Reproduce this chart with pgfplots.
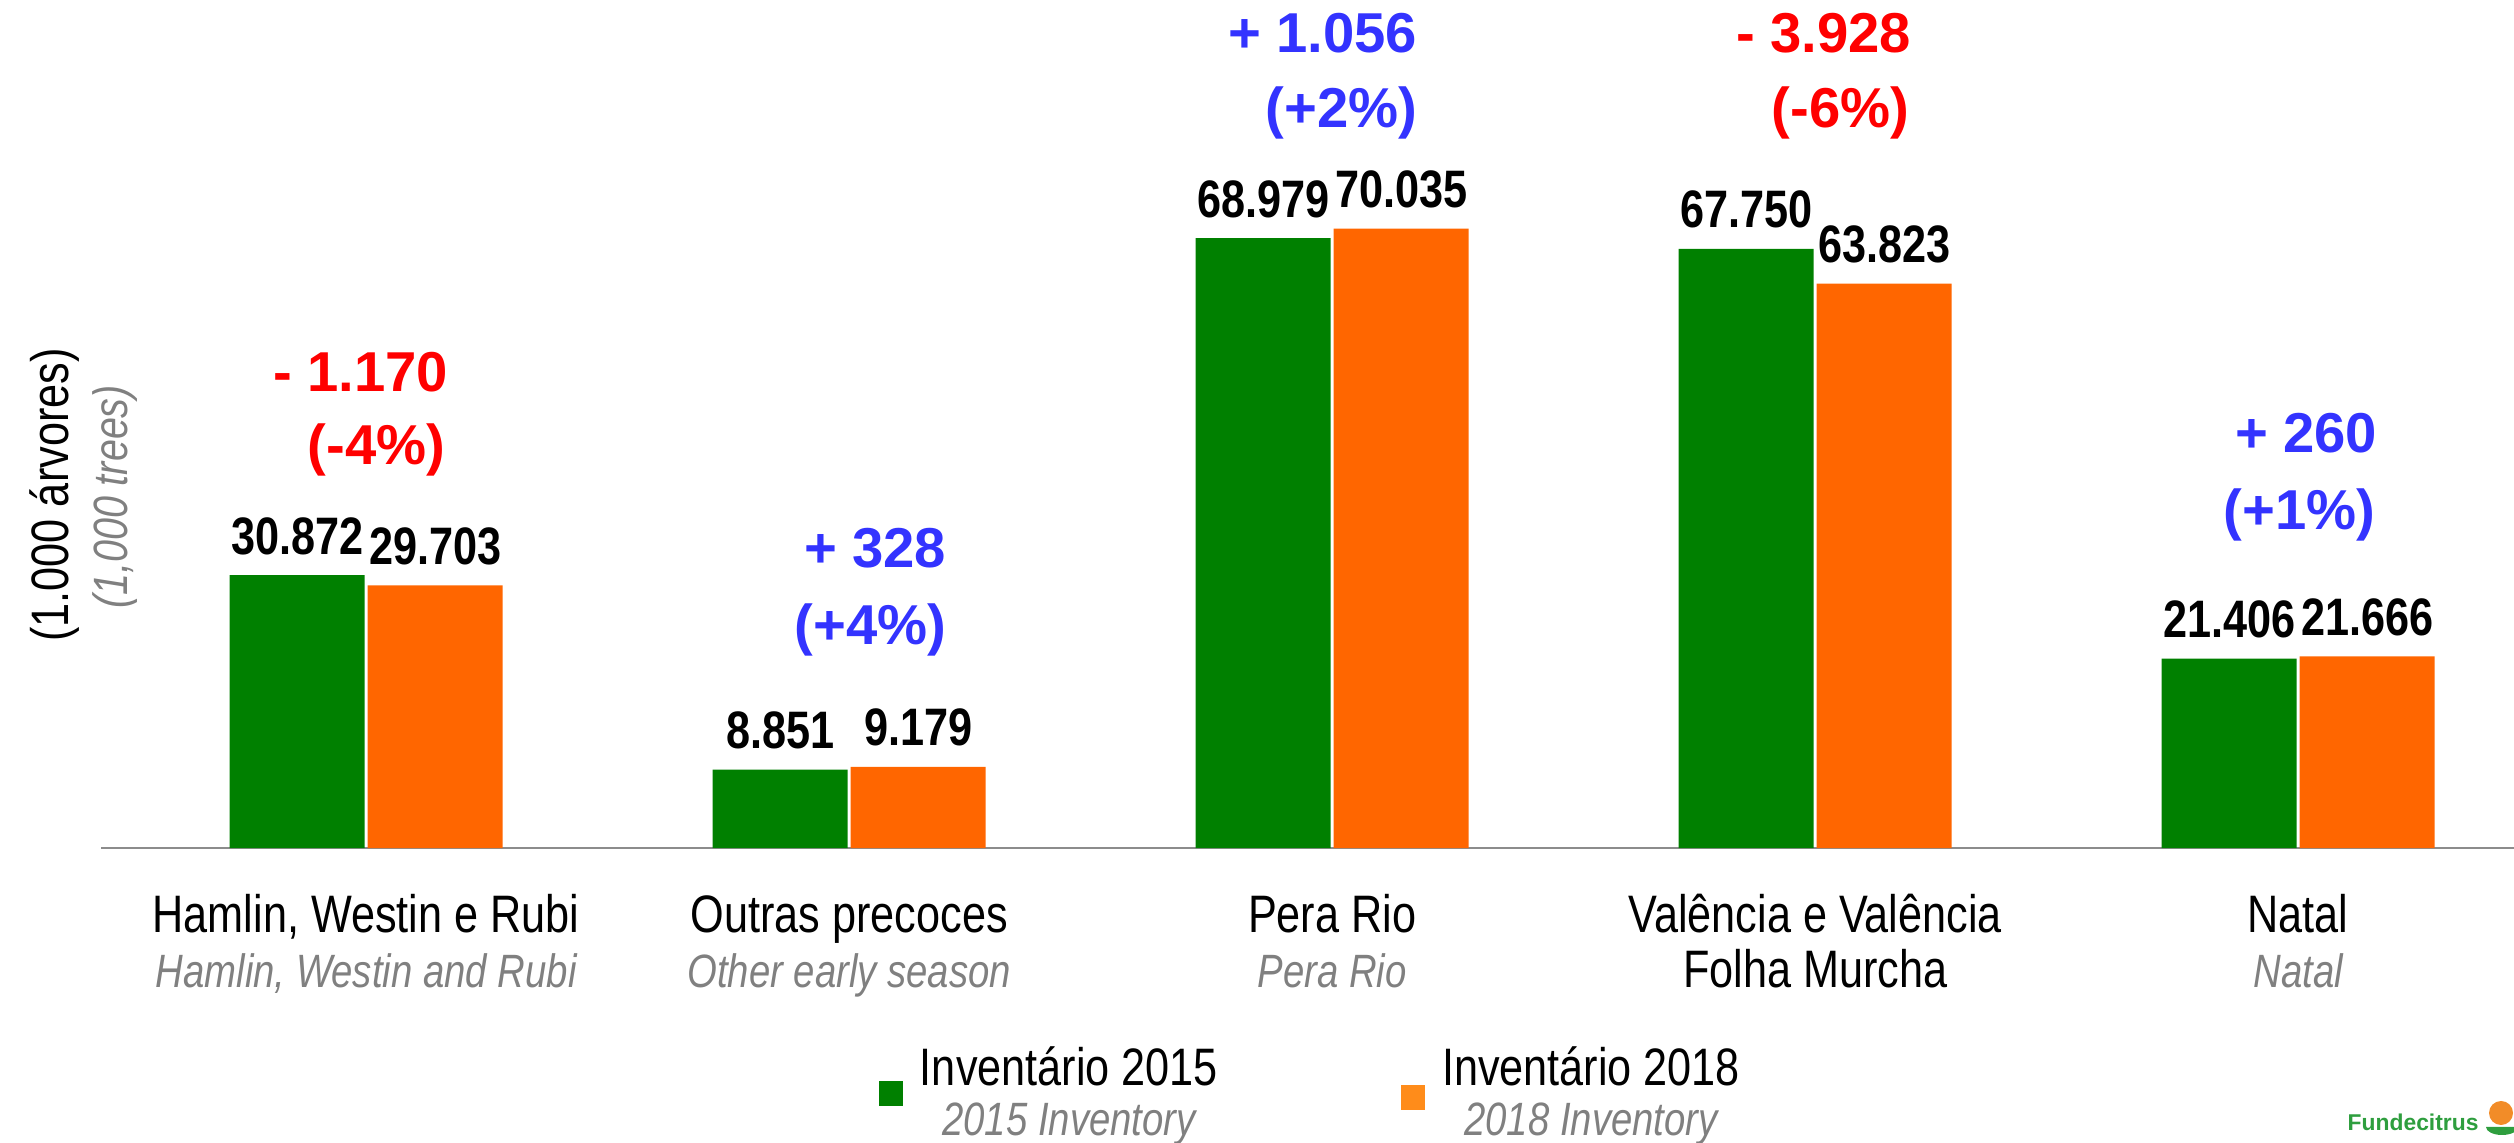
\documentclass[border=0pt]{standalone}
\usepackage{fontspec}
\setmainfont{Liberation Sans}[FakeStretch=0.82]
\newfontfamily\annfont{Liberation Sans}
\usepackage{pgfplots}
\pgfplotsset{compat=1.18}

\definecolor{bargreen}{HTML}{008000}
\definecolor{barorange}{HTML}{FF6600}
\definecolor{legorange}{HTML}{FF8C1A}
\definecolor{annred}{HTML}{FF0000}
\definecolor{annblue}{HTML}{3333FF}
\definecolor{subgray}{HTML}{808080}
\definecolor{axisgray}{HTML}{8C8C8C}
\definecolor{logogreen}{HTML}{2E9E3E}
\definecolor{logoorange}{HTML}{F28C28}

% English line under each Portuguese label
\newcommand\sub[1]{{\color{subgray}\itshape\fontsize{13.3pt}{14.2pt}\selectfont #1}}
% fixed height for the first line of tick labels (accents vary)
\newcommand\tr{\rule{0pt}{5.2mm}}

\begin{document}
\begin{tikzpicture}
\useasboundingbox (0,0) rectangle (251.4mm,114.3mm);

\begin{axis}[
    at={(10.1mm,29.5mm)}, anchor=south west,
    scale only axis,
    width=241.3mm, height=84.8mm,
    ybar=0.3mm, bar width=13.5mm,
    xmin=-0.549, xmax=4.447,
    ymin=0, ymax=95.9,
    axis x line=bottom, axis y line=none,
    x axis line style={-, draw=axisgray, line width=0.6pt},
    xtick={0,1,2,3,4},
    major tick length=0pt,
    ytick=\empty,
    xticklabels={
        {\tr Hamlin, Westin e Rubi\\\sub{Hamlin, Westin and Rubi}},
        {\tr Outras precoces\\\sub{Other early season}},
        {\tr Pera Rio\\\sub{Pera Rio}},
        {\tr Valência e Valência\\Folha Murcha},
        {\tr Natal\\\sub{Natal}}
    },
    x tick label style={anchor=north, inner sep=0pt, align=center,
        font=\fontsize{15pt}{15.65pt}\selectfont, text=black, yshift=-3.2mm},
    clip=false,
    nodes near coords={\pgfmathprintnumber[fixed, fixed zerofill, precision=3, assume math mode=true]{\pgfplotspointmeta}},
    every node near coord/.append style={font=\bfseries\fontsize{15pt}{18pt}\selectfont,
        text=black, anchor=base, inner sep=0pt, yshift=2.1mm},
    legend columns=2,
    legend style={at={(0.3221,-0.2900)}, anchor=west, draw=none, fill=none,
        inner sep=0pt, font=\fontsize{15pt}{14.2pt}\selectfont,
        cells={align=center, inner sep=0pt},
        /tikz/every odd column/.append style={column sep=1.0mm},
        /tikz/every even column/.append style={column sep=17.6mm}},
]

\addplot[fill=bargreen, draw=none,
    legend image code/.code={\fill[bargreen] (0mm,-1.25mm) rectangle (2.4mm,1.25mm);}]
    coordinates {(0,30.872) (1,8.851) (2,68.979) (3,67.750) (4,21.406)};
\addlegendentry{Inventário 2015\\\sub{2015 Inventory}}

\addplot[fill=barorange, draw=none,
    legend image code/.code={\fill[legorange] (0mm,-1.6mm) rectangle (2.4mm,0.9mm);}]
    coordinates {(0,29.703) (1,9.179) (2,70.035) (3,63.823) (4,21.666)};
\addlegendentry{Inventário 2018\\\sub{2018 Inventory}}

\end{axis}

% difference between inventories
\tikzset{ann/.style={anchor=base east, inner sep=0pt,
    font=\annfont\bfseries\fontsize{16pt}{19pt}\selectfont}}
\node[ann, text=annred]  at (44.9mm,75.1mm) {- 1.170};
\node[ann, text=annred]  at (44.6mm,67.8mm) {(-4\%)};
\node[ann, text=annblue] at (94.7mm,57.5mm) {+ 328};
\node[ann, text=annblue] at (94.7mm,49.8mm) {(+4\%)};
\node[ann, text=annblue] at (141.8mm,109.0mm) {+ 1.056};
\node[ann, text=annblue] at (141.8mm,101.5mm) {(+2\%)};
\node[ann, text=annred]  at (191.2mm,109.0mm) {- 3.928};
\node[ann, text=annred]  at (191.0mm,101.5mm) {(-6\%)};
\node[ann, text=annblue] at (237.8mm,69.0mm) {+ 260};
\node[ann, text=annblue] at (237.6mm,61.3mm) {(+1\%)};

% y axis caption
\node[rotate=90, inner sep=0pt, font=\fontsize{15pt}{18pt}\selectfont] at (5.5mm,64.8mm) {(1.000 árvores)};
\node[rotate=90, inner sep=0pt, font=\fontsize{13.7pt}{16pt}\selectfont, text=subgray] at (11.5mm,64.6mm) {\itshape (1,000 trees)};

% logo
\node[anchor=base west, inner sep=0pt, text=logogreen,
    font=\annfont\bfseries\fontsize{6.5pt}{7pt}\selectfont] at (234.7mm,1.3mm) {Fundecitrus};
\fill[logoorange] (250.1mm,3.0mm) circle (1.2mm);
\fill[logogreen] (248.6mm,1.6mm) arc (180:360:1.6mm and 0.8mm) -- cycle;
\end{tikzpicture}
\end{document}
